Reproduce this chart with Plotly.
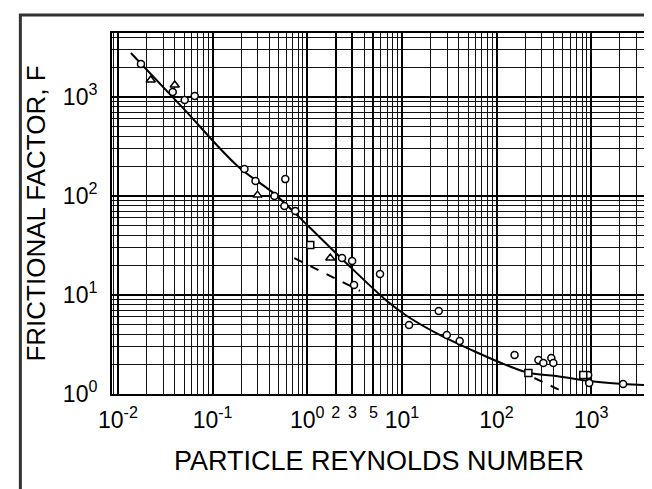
import plotly.graph_objects as go

# ---- data ----
curve_re = [0.0137, 0.0496, 0.183, 0.45, 1.076, 2.33, 6.95, 11.3, 25.1, 57.3, 127, 222, 428, 953, 2173, 3614]
curve_f = [2783, 757, 201, 105, 47.5, 23.1, 8.7, 6.14, 3.95, 2.72, 1.96, 1.63, 1.52, 1.35, 1.26, 1.23]

dash1_re = [0.73, 3.61]
dash1_f = [23.6, 11.0]
dash2_re = [251, 460]
dash2_f = [1.45, 1.1]

circ_re = [0.0175, 0.0379, 0.0507, 0.0647, 0.217, 0.284, 0.586, 0.45, 0.573, 0.748, 2.33, 2.98,
           3.12, 5.87, 11.9, 24.5, 29.8, 40.8, 155, 277, 312, 379, 398, 929, 953, 2173]
circ_f = [2153, 1124, 933, 1024, 187, 142, 148, 100, 79, 70.5, 23.6, 22,
          12.6, 16.3, 4.98, 6.9, 3.95, 3.43, 2.48, 2.2, 2.06, 2.31, 2.06, 1.56, 1.29, 1.26]

tri_re = [0.0222, 0.0398, 0.298, 1.75]
tri_f = [1485, 1322, 102, 23.6]

sq_re = [1.076, 217, 824]
sq_f = [32, 1.63, 1.56]

x_tickvals = [0.01, 0.1, 1, 2, 3, 5, 10, 100, 1000]
x_ticktext = ["10<sup>-2</sup>", "10<sup>-1</sup>", "10<sup>0</sup>", "<sup>2</sup>", "<sup>3</sup>",
              "<sup>5</sup>", "10<sup>1</sup>", "10<sup>2</sup>", "10<sup>3</sup>"]
y_tickvals = [1, 10, 100, 1000]
y_ticktext = ["10<sup>0</sup>", "10<sup>1</sup>", "10<sup>2</sup>", "10<sup>3</sup>"]

decades = [-3, -2, -1, 0, 1, 2, 3]
minor_vals = [d * 10 ** e for e in decades for d in range(2, 10)]

FONT = "Liberation Sans"

fig = go.Figure()
fig.add_trace(go.Scatter(x=curve_re, y=curve_f, mode="lines", line=dict(color="black", width=2, shape="spline"),
                         showlegend=False))
fig.add_trace(go.Scatter(x=dash1_re, y=dash1_f, mode="lines", line=dict(color="black", width=2, dash="dash"),
                         showlegend=False))
fig.add_trace(go.Scatter(x=dash2_re, y=dash2_f, mode="lines", line=dict(color="black", width=2, dash="dash"),
                         showlegend=False))
fig.add_trace(go.Scatter(x=circ_re, y=circ_f, mode="markers",
                         marker=dict(symbol="circle", size=7, color="white", line=dict(color="black", width=1.5)),
                         showlegend=False))
fig.add_trace(go.Scatter(x=tri_re, y=tri_f, mode="markers",
                         marker=dict(symbol="triangle-up", size=8, color="white", line=dict(color="black", width=1.5)),
                         showlegend=False))
fig.add_trace(go.Scatter(x=sq_re, y=sq_f, mode="markers",
                         marker=dict(symbol="square", size=7, color="white", line=dict(color="black", width=1.5)),
                         showlegend=False))

axis_common = dict(
    type="log", showline=True, linecolor="black", linewidth=2, mirror=True,
    showgrid=True, gridcolor="black", gridwidth=2.2, ticks="", zeroline=False,
    tickfont=dict(family=FONT, size=23, color="black"),
    minor=dict(tickvals=minor_vals, showgrid=True, gridcolor="#111111", gridwidth=1.4, ticks=""),
)

fig.update_xaxes(**axis_common, range=[-2.063, 3.579], tickmode="array", tickvals=x_tickvals,
                 ticktext=x_ticktext, ticklabelstandoff=4,
                 title=dict(text="PARTICLE REYNOLDS NUMBER", font=dict(family=FONT, size=27, color="black"),
                            standoff=20))
fig.update_yaxes(**axis_common, range=[0, 3.646], tickmode="array", tickvals=y_tickvals,
                 ticktext=y_ticktext, ticklabelstandoff=8,
                 title=dict(text="FRICTIONAL FACTOR, F", font=dict(family=FONT, size=26, color="black"),
                            standoff=10))

fig.update_layout(
    width=652, height=489,
    margin=dict(l=104, r=12, t=25, b=103),
    paper_bgcolor="white", plot_bgcolor="white",
    shapes=[dict(type="rect", xref="paper", yref="paper", x0=-0.1716, x1=1.0112, y0=-0.302, y1=1.0499,
                 line=dict(color="#333333", width=3), layer="below")],
)

fig.write_html("out.html")
